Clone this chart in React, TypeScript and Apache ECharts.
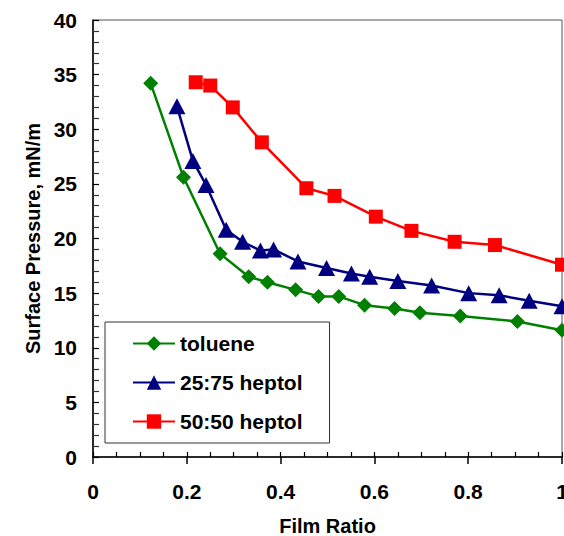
import React, { useEffect, useRef } from "react";
import * as echarts from "echarts";

const seriesNames = ["toluene", "25:75 heptol", "50:50 heptol"];

const toluene: [number, number][] = [
  [0.123, 34.2], [0.193, 25.6], [0.271, 18.6], [0.332, 16.5], [0.372, 16.0],
  [0.432, 15.3], [0.481, 14.7], [0.524, 14.7], [0.579, 13.9], [0.643, 13.6],
  [0.697, 13.2], [0.783, 12.9], [0.905, 12.4], [1.0, 11.6],
];

const heptol2575: [number, number][] = [
  [0.179, 32.1], [0.213, 27.1], [0.241, 24.9], [0.284, 20.8], [0.319, 19.7],
  [0.357, 18.9], [0.385, 19.0], [0.437, 17.9], [0.498, 17.3], [0.551, 16.8],
  [0.590, 16.5], [0.650, 16.1], [0.722, 15.7], [0.801, 15.0], [0.866, 14.8],
  [0.930, 14.3], [1.0, 13.8],
];

const heptol5050: [number, number][] = [
  [0.219, 34.3], [0.25, 34.0], [0.298, 32.0], [0.360, 28.8], [0.455, 24.6],
  [0.515, 23.9], [0.603, 22.0], [0.679, 20.7], [0.771, 19.7], [0.857, 19.4],
  [1.0, 17.6],
];

const xTitle = "Film Ratio";
const yTitle = "Surface Pressure, mN/m";

const FONT = "Liberation Sans, Arial, sans-serif";

export default function App() {
  const ref = useRef<HTMLDivElement>(null);
  useEffect(() => {
    if (!ref.current) return;
    const chart = echarts.init(ref.current, undefined, { renderer: "svg" });
    const mk = (
      name: string,
      data: [number, number][],
      color: string,
      symbol: string,
      symbolSize: number | number[]
    ) => ({
      name,
      type: "line",
      data,
      xAxisIndex: 0,
      yAxisIndex: 0,
      symbol,
      symbolSize,
      showSymbol: true,
      lineStyle: { color, width: 2.5 },
      itemStyle: { color, borderColor: color, borderWidth: 0 },
      emphasis: { disabled: true },
      z: 3,
    });
    chart.setOption({
      animation: false,
      backgroundColor: "#ffffff",
      textStyle: { fontFamily: FONT },
      grid: {
        left: 93,
        right: 2,
        top: 20,
        bottom: 79,
        containLabel: false,
        outerBoundsMode: "none",
        show: true,
        borderColor: "#555555",
        borderWidth: 1,
        backgroundColor: "transparent",
      },
      legend: {
        show: true,
        orient: "vertical",
        left: 105,
        top: 322,
        width: 227,
        padding: [11, 27, 11, 27],
        itemWidth: 42,
        itemHeight: 18,
        itemGap: 18,
        itemTextGap: 6,
        borderColor: "#333333",
        borderWidth: 1,
        backgroundColor: "#ffffff",
        textStyle: {
          fontFamily: FONT,
          fontSize: 21,
          fontWeight: "bold",
          color: "#000000",
          lineHeight: 20,
        },
        data: seriesNames,
      },
      xAxis: [
        {
          type: "value",
          min: 0,
          max: 1,
          interval: 0.2,
          position: "bottom",
          name: xTitle,
          nameLocation: "middle",
          nameGap: 59,
          nameTextStyle: {
            fontFamily: FONT,
            fontSize: 20,
            fontWeight: "bold",
            color: "#000000",
          },
          axisLine: { show: true, onZero: false, lineStyle: { color: "#000000", width: 1.5 } },
          axisTick: { show: true, inside: false, length: 7, lineStyle: { color: "#000000", width: 1.5 } },
          axisLabel: {
            show: true,
            margin: 24,
            fontFamily: FONT,
            fontSize: 21,
            fontWeight: "bold",
            color: "#000000",
            formatter: (v: number) => String(Math.round(v * 10) / 10),
          },
          splitLine: { show: false },
        },
        {
          type: "value",
          min: 0,
          max: 1,
          interval: 0.05,
          position: "bottom",
          axisLine: { show: false },
          axisTick: { show: true, inside: true, length: 5, lineStyle: { color: "#000000", width: 1.2 } },
          axisLabel: { show: false },
          splitLine: { show: false },
        },
      ],
      yAxis: {
        type: "value",
        min: 0,
        max: 40,
        interval: 5,
        name: yTitle,
        nameLocation: "middle",
        nameGap: 46,
        nameTextStyle: {
          fontFamily: FONT,
          fontSize: 20,
          fontWeight: "bold",
          color: "#000000",
        },
        axisLine: { show: true, onZero: false, lineStyle: { color: "#000000", width: 1.5 } },
        axisTick: { show: true, inside: true, length: 6, lineStyle: { color: "#000000", width: 1.2 } },
        minorTick: { show: true, splitNumber: 5, length: 6, lineStyle: { color: "#333333", width: 1.2 } },
        axisLabel: {
          show: true,
          margin: 16,
          fontFamily: FONT,
          fontSize: 21,
          fontWeight: "bold",
          color: "#000000",
        },
        splitLine: { show: false },
      },
      series: [
        mk(seriesNames[0], toluene, "#008000", "diamond", 15),
        mk(seriesNames[1], heptol2575, "#000080", "triangle", [17, 16]),
        mk(seriesNames[2], heptol5050, "#FF0000", "rect", 14),
      ],
    });
    return () => chart.dispose();
  }, []);
  return (
    <div
      ref={ref}
      style={{ position: "fixed", left: 0, top: 0, width: 564, height: 536 }}
    />
  );
}
